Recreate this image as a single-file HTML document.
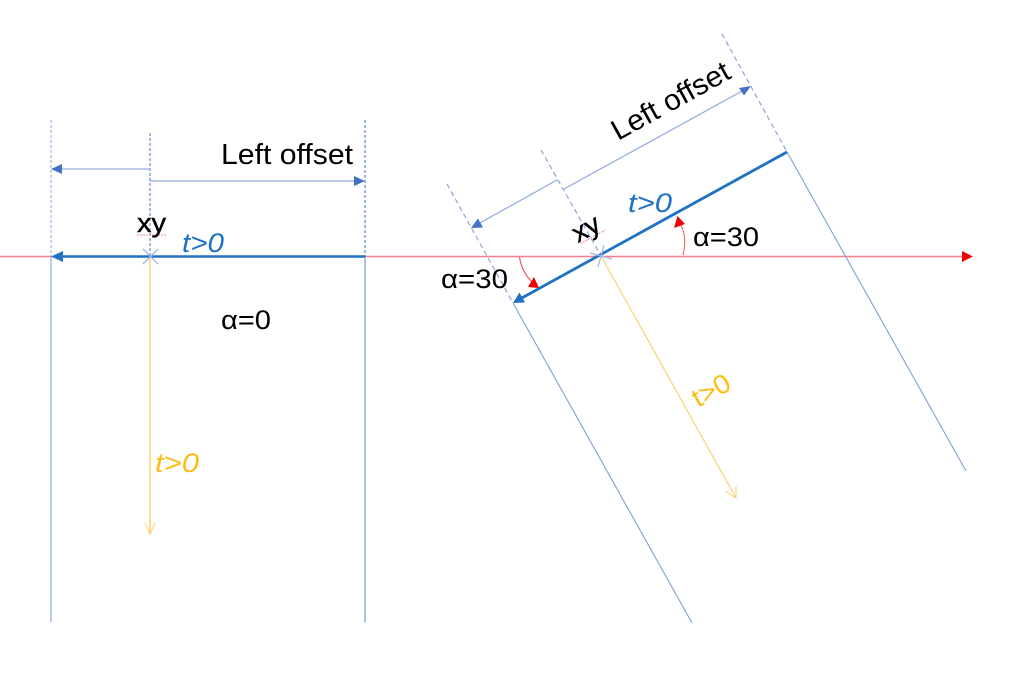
<!DOCTYPE html>
<html>
<head>
<meta charset="utf-8">
<style>
html,body{margin:0;padding:0;background:#fff;width:1013px;height:686px;overflow:hidden}
svg{display:block;filter:blur(0.35px)}
text{font-family:"Liberation Sans",sans-serif;fill:#000}
</style>
</head>
<body>
<svg width="1013" height="686" viewBox="0 0 1013 686" xmlns="http://www.w3.org/2000/svg">
<rect width="1013" height="686" fill="#fff"/>
<g fill="none">
<!-- red axis -->
<line x1="0" y1="256.5" x2="964" y2="256.5" stroke="#fb7b8a" stroke-width="1.5"/>
<polygon points="973,256.5 962,251 962,262" fill="#f00000"/>

<!-- left solid/dashed guides -->
<line x1="51" y1="120" x2="51" y2="257" stroke="#9db5e2" stroke-width="1.2" stroke-dasharray="3 2"/>
<line x1="51" y1="257" x2="51" y2="622" stroke="#a4bbe4" stroke-width="1.5"/>
<line x1="150" y1="133" x2="150" y2="257" stroke="#4472c4" stroke-width="1" stroke-dasharray="3 2"/>
<line x1="365" y1="120" x2="365" y2="257" stroke="#4472c4" stroke-width="1" stroke-dasharray="3 2"/>
<line x1="365" y1="257" x2="365" y2="622" stroke="#5f87cf" stroke-width="1"/>

<!-- left offset arrows -->
<line x1="150" y1="169" x2="60" y2="169" stroke="#a4bbe4" stroke-width="1.5"/>
<polygon points="51,169 62,164 62,174" fill="#4472c4"/>
<line x1="150" y1="181" x2="356" y2="181" stroke="#8fa9dc" stroke-width="1.3"/>
<polygon points="365,181 354,176 354,186" fill="#4472c4"/>

<!-- yellow left -->
<line x1="150" y1="257" x2="150" y2="534" stroke="#f8c848" stroke-width="1.2"/>
<polyline points="145,523 150,534 155,523" stroke="#f9d278" stroke-width="1"/>

<!-- thick blue left -->
<line x1="365" y1="256.5" x2="58" y2="256.5" stroke="#1f72c4" stroke-width="2.4"/>
<polygon points="51,256.5 63,251 63,262" fill="#1f72c4"/>

<!-- xy left cross -->
<line x1="143" y1="249" x2="158" y2="264" stroke="#9db5e2" stroke-width="1.3"/>
<line x1="158" y1="249" x2="143" y2="264" stroke="#9db5e2" stroke-width="1.3"/>
<line x1="137" y1="235" x2="167" y2="235" stroke="#ef8a96" stroke-width="1" stroke-dasharray="2 1"/>

<!-- right guides -->
<line x1="722" y1="34" x2="787" y2="152" stroke="#7f9fd8" stroke-width="1.1" stroke-dasharray="5 3.5"/>
<line x1="787" y1="152" x2="966" y2="471" stroke="#7f9fd8" stroke-width="1.1"/>
<line x1="541" y1="150" x2="601" y2="256" stroke="#7f9fd8" stroke-width="1.1" stroke-dasharray="5 3.5"/>
<line x1="447" y1="184" x2="513" y2="303" stroke="#7f9fd8" stroke-width="1.1" stroke-dasharray="5 3.5"/>
<line x1="513" y1="303" x2="692" y2="623" stroke="#7f9fd8" stroke-width="1.1"/>

<!-- right offset arrows -->
<line x1="564" y1="189" x2="744" y2="90" stroke="#8fa9dc" stroke-width="1.2"/>
<polygon points="751,86 739,88 744,95.500" fill="#4472c4"/>
<line x1="557" y1="180" x2="478" y2="224" stroke="#8fa9dc" stroke-width="1.2"/>
<polygon points="471,228 483,227.500 478,218.500" fill="#4472c4"/>

<!-- yellow right -->
<line x1="601" y1="256" x2="736" y2="498" stroke="#f9d278" stroke-width="1.2"/>
<polyline points="725,491 736,498 736,486" stroke="#f9d278" stroke-width="1"/>

<!-- thick blue right -->
<line x1="787" y1="152" x2="520" y2="299" stroke="#1f72c4" stroke-width="2.8"/>
<polygon points="513,303 525,302.500 519.500,292.500" fill="#1f72c4"/>

<!-- xy right cross -->
<line x1="590" y1="253" x2="612" y2="259" stroke="#9db5e2" stroke-width="1.2"/>
<line x1="604" y1="245" x2="598" y2="267" stroke="#9db5e2" stroke-width="1.2"/>
<line x1="580" y1="244" x2="605" y2="230" stroke="#ef8a96" stroke-width="1" stroke-dasharray="2 1"/>

<!-- red arcs -->
<path d="M683 255 C686 243 685 232 680 223" stroke="#f4606f" stroke-width="1.1"/>
<polygon points="677.500,216 674,228 685,224" fill="#f00000"/>
<path d="M519.500 257 C521 268 526 276 532 282" stroke="#e8505f" stroke-width="1.1"/>
<polygon points="539,288 528,287 534,277" fill="#f00000"/>
</g>

<!-- labels -->
<text x="221" y="164" font-size="29" textLength="132" lengthAdjust="spacingAndGlyphs">Left offset</text>
<text x="137" y="232" font-size="27" textLength="29" lengthAdjust="spacingAndGlyphs" stroke="#000" stroke-width="0.4">xy</text>
<text x="182" y="252" font-size="27" font-style="italic" style="fill:#1f72c4" textLength="42" lengthAdjust="spacingAndGlyphs">t&gt;0</text>
<text x="221" y="329" font-size="27" textLength="50" lengthAdjust="spacingAndGlyphs">α=0</text>
<text x="155" y="472" font-size="27" font-style="italic" style="fill:#fbbd18" textLength="44" lengthAdjust="spacingAndGlyphs">t&gt;0</text>

<text transform="translate(618,141) rotate(-29)" font-size="29" textLength="131" lengthAdjust="spacingAndGlyphs">Left offset</text>
<text transform="translate(578,243) rotate(-29)" font-size="27" textLength="28" lengthAdjust="spacingAndGlyphs" stroke="#000" stroke-width="0.4">xy</text>
<text x="628" y="212" font-size="27" font-style="italic" style="fill:#1f72c4" textLength="44" lengthAdjust="spacingAndGlyphs">t&gt;0</text>
<text x="693" y="246" font-size="27" textLength="66" lengthAdjust="spacingAndGlyphs">α=30</text>
<text x="441" y="288" font-size="27" textLength="67" lengthAdjust="spacingAndGlyphs">α=30</text>
<text transform="translate(698,408) rotate(-29)" font-size="27" style="fill:#fbbd18" textLength="40" lengthAdjust="spacingAndGlyphs">t&gt;0</text>
</svg>
</body>
</html>
